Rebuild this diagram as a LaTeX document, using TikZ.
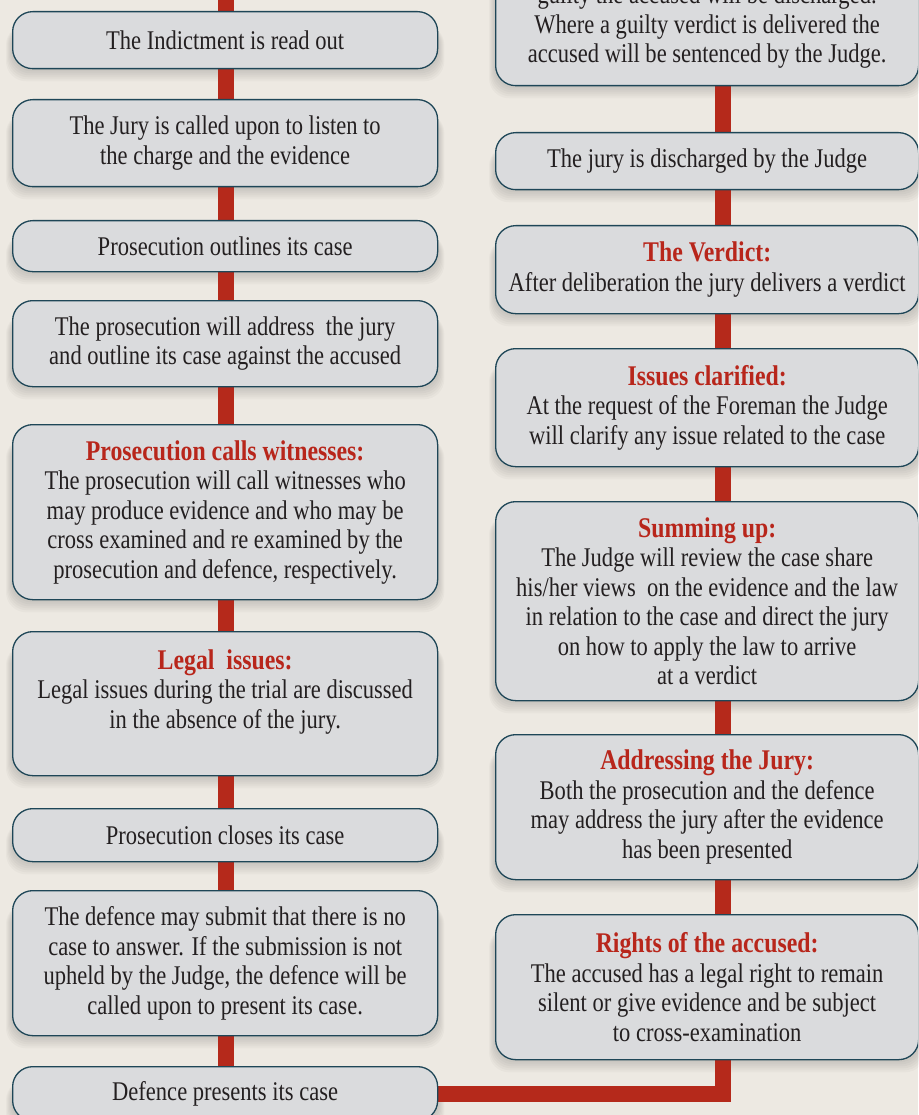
\documentclass[tikz,border=0pt]{standalone}
\usepackage{fontspec}
\setmainfont{Liberation Serif}[FakeStretch=0.835]
\usetikzlibrary{backgrounds,calc}
\definecolor{bg}{HTML}{EDE9E2}
\definecolor{boxfill}{HTML}{DADBDD}
\definecolor{boxline}{HTML}{1E4657}
\definecolor{conn}{HTML}{B5291B}
\definecolor{ttl}{HTML}{B8261B}
\definecolor{txt}{HTML}{231F20}
\newcommand{\ttlx}[1]{{\color{ttl}\bfseries\fontsize{28.5}{29.5}\selectfont #1}}
\newcommand{\boxshadow}[1]{%
  \foreach \i in {1,...,6}{%
    \fill[black,opacity=0.025,rounded corners=20pt]
      ($(#1.south west)+(-\i,-2*\i)$) rectangle ($(#1.north east)+(\i,-14)$);}}
\tikzset{
  stepbox/.style={draw=boxline, line width=1.3pt, fill=boxfill, rounded corners=20pt,
    anchor=north west, align=center, text=txt, inner sep=0pt,
    font=\fontsize{27}{29.5}\selectfont},
  lbox/.style={stepbox, minimum width=425pt},
  rbox/.style={stepbox, minimum width=423pt},
  link/.style={conn, line width=16pt},
}
\begin{document}
\begin{tikzpicture}[x=1pt,y=1pt]
\useasboundingbox (0,0) rectangle (918,-1115);
\clip (0,0) rectangle (918,-1115);
\coordinate (lx) at (226,0);
\coordinate (rx) at (723,0);
\coordinate (top) at (226,0);
% left column
\node[lbox, minimum height=57pt] (l1) at (12,-11) {The Indictment is read out};
\node[lbox, minimum height=87pt] (l2) at (12,-99) {The Jury is called upon to listen to\\the charge and the evidence};
\node[lbox, minimum height=51pt] (l3) at (12,-220) {Prosecution outlines its case};
\node[lbox, minimum height=86pt] (l4) at (12,-300) {The prosecution will address\ \ the jury\\and outline its case against the accused};
\node[lbox, minimum height=175pt] (l5) at (12,-424) {\ttlx{Prosecution calls witnesses:}\\The prosecution will call witnesses who\\may produce evidence and who may be\\cross examined and re examined by the\\prosecution and defence, respectively.};
\node[lbox, minimum height=144pt] (l6) at (12,-631) {\ttlx{Legal\ \ issues:}\\Legal issues during the trial are discussed\\in the absence of the jury.\\\mbox{}};
\node[lbox, minimum height=53pt] (l7) at (12,-808) {Prosecution closes its case};
\node[lbox, minimum height=145pt] (l8) at (12,-890) {The defence may submit that there is no\\case to answer. If the submission is not\\upheld by the Judge, the defence will be\\called upon to present its case.};
\node[lbox, minimum height=54pt] (l9) at (12,-1066) {Defence presents its case};
% right column
\node[rbox, minimum height=118pt] (r1) at (495,33) {\raisebox{-2pt}{guilty the accused will be discharged.}\\\raisebox{-2pt}{Where a guilty verdict is delivered the}\\\raisebox{-2pt}{accused will be sentenced by the Judge.}};
\node[rbox, minimum height=57pt] (r2) at (495,-132) {The jury is discharged by the Judge};
\node[rbox, minimum height=88pt] (r3) at (495,-225) {\ttlx{The Verdict:}\\After deliberation the jury delivers a verdict};
\node[rbox, minimum height=118pt] (r4) at (495,-348) {\ttlx{Issues clarified:}\\At the request of the Foreman the Judge\\will clarify any issue related to the case};
\node[rbox, minimum height=199pt] (r5) at (495,-501) {\ttlx{Summing up:}\\The Judge will review the case share\\his/her views\ \ on the evidence and the law\\in relation to the case and direct the jury\\on how to apply the law to arrive\\at a verdict};
\node[rbox, minimum height=145pt] (r6) at (495,-734) {\ttlx{Addressing the Jury:}\\Both the prosecution and the defence\\may address the jury after the evidence\\has been presented};
\node[rbox, minimum height=145pt] (r7) at (495,-914) {\ttlx{Rights of the accused:}\\The accused has a legal right to remain\\silent or give evidence and be subject\\to cross-examination};
\begin{pgfonlayer}{background}
  \fill[bg] (0,0) rectangle (918,-1115);
  \foreach \n in {l1,l2,l3,l4,l5,l6,l7,l8,l9,r1,r2,r3,r4,r5,r6,r7}{\boxshadow{\n}}
  \draw[link] (top) -- (l1.north -| lx);
  \foreach \a/\b in {l1/l2,l2/l3,l3/l4,l4/l5,l5/l6,l6/l7,l7/l8,l8/l9}{
    \draw[link] (\a.south -| lx) -- (\b.north -| lx);}
  \foreach \a/\b in {r1/r2,r2/r3,r3/r4,r4/r5,r5/r6,r6/r7}{
    \draw[link] (\a.south -| rx) -- (\b.north -| rx);}
  \draw[link] (l9.east) -- (l9.east -| rx) -- (r7.south -| rx);
\end{pgfonlayer}
\end{tikzpicture}
\end{document}
